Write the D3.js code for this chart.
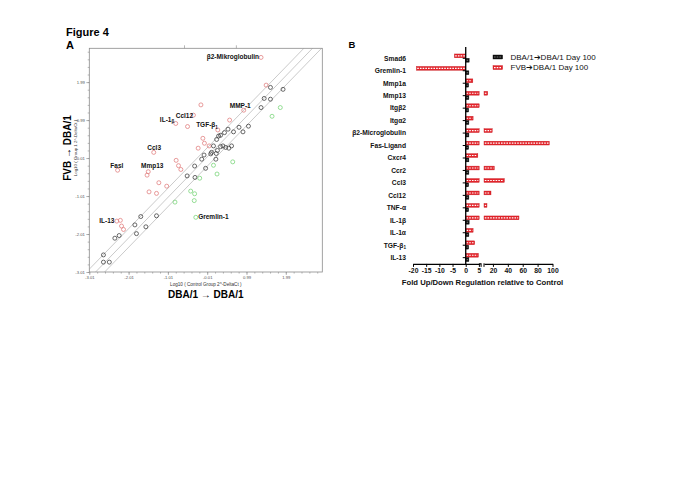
<!DOCTYPE html>
<html><head><meta charset="utf-8">
<script src="https://cdn.jsdelivr.net/npm/d3@7"></script>
<style>
body{margin:0;background:#fff}
svg{display:block}
text{font-family:"Liberation Sans",Arial,Helvetica,sans-serif}
</style>
</head><body>
<svg id="c" width="685" height="484"></svg>
<script>
// ---------------- Panel A data (log10 values) ----------------
const scatterX = [1.36,1.49,1.60,1.92,1.44,1.60,1.36,1.85,1.64,0.92,-0.17,0.56,-0.81,-0.51,-0.36,0.26,0.52,0.80,1.04,0.43,0.66,0.90,0.28,0.33,0.23,-0.12,-0.08,0.04,0.15,-0.24,0.33,0.39,0.61,-1.37,-0.80,-0.74,-0.68,0.25,0.10,0.08,-0.09,0.22,0.46,0.54,-0.15,0.21,-0.33,-0.05,0.15,0.64,-0.52,-0.32,-0.20,0.24,-0.43,-0.33,-0.34,-0.83,-0.30,-2.29,-1.51,-1.54,-1.24,-1.04,-1.49,-1.30,-1.70,-1.30,-1.85,-1.57,-1.81,-2.31,-2.22,-2.19,-2.14,-2.25,-2.36,-2.65,-2.65,-2.50];
const scatterY = [2.64,1.91,1.85,1.80,1.56,1.54,1.32,1.32,1.09,1.25,1.39,0.99,0.90,0.82,1.12,0.73,0.75,0.80,0.83,0.66,0.68,0.68,0.57,0.59,0.48,0.51,0.38,0.31,0.31,0.25,0.29,0.31,0.31,0.14,-0.07,-0.21,-0.31,0.19,0.14,0.10,0.07,0.11,0.27,0.25,-0.04,-0.04,-0.22,-0.28,-0.20,-0.11,-0.48,-0.52,-0.54,-0.43,-0.88,-0.95,-1.13,-1.17,-1.57,-0.33,-0.37,-0.46,-0.66,-0.75,-0.90,-0.94,-1.55,-1.53,-1.77,-1.82,-2.00,-1.67,-1.65,-1.80,-1.89,-2.05,-2.12,-2.56,-2.75,-2.75];
const scatterGroup = ["up","up","none","none","none","none","none","down","down","up","up","up","up","up","up","up","none","none","none","none","none","none","none","none","none","up","up","up","none","up","none","none","none","up","up","up","up","none","none","none","none","none","none","none","none","none","none","none","down","down","none","none","down","down","down","down","down","down","down","up","up","up","up","up","up","up","none","none","none","none","none","up","up","up","up","none","none","none","none","none"];

const tickValuesA = [-3.01,-2.01,-1.01,-0.01,0.99,1.99];
const tickLabelsA = ["-3.01","-2.01","-1.01","-0.01","0.99","1.99"];
const topTickValuesA = [-0.6,0.72];

// boundary / identity lines (data coords)
const diagX1 = [-3.08,-2.85,-2.62];
const diagY1 = [-3.01,-3.01,-3.01];
const diagX2 = [2.45,2.67,2.90];
const diagY2 = [2.88,2.88,2.88];

// gene annotations
const geneText   = ["β2-Mikroglobulin","MMP-1","Ccl12","IL-1","TGF-β","Ccl3","Fasl","Mmp13","IL-13","Gremlin-1"];
const geneSub    = ["","","","β","1","","","","",""];
const geneX      = [1.31,0.83,-0.37,-0.85,0.26,-1.36,-2.31,-1.41,-2.37,-0.24];
const geneY      = [2.65,1.36,1.11,1.01,0.87,0.27,-0.21,-0.21,-1.67,-1.56];
const geneAnchor = ["end","middle","end","end","end","middle","middle","middle","end","start"];

// ---------------- Panel B data (fold change) ----------------
const categories = ["Smad6","Gremlin-1","Mmp1a","Mmp13","Itgβ2","Itgα2","β2-Microglobulin","Fas-Ligand","Cxcr4","Ccr2","Ccl3","Ccl12","TNF-α","IL-1β","IL-1α","TGF-β","IL-13"];
const categorySub = ["","","","","","","","","","","","","","","","1",""];
const fvbValues = [-4.3,-18.7,2.7,13,5.2,2.8,19,95.7,4.6,21.8,35.3,17.4,12,55,2.8,3.4,4.8];
const dbaValues = [1.3,1.2,1.1,1.2,1.1,1.2,1.2,1.1,1.2,1.2,1.1,1.2,1.1,1.3,1.2,1.1,1.2];
const seriesNames = ["DBA/1➔DBA/1 Day 100","FVB➔DBA/1 Day 100"];
const ticksLow = [-20,-15,-10,-5,0,5];
const ticksHigh = [20,40,60,80,100];

// ============================================================
const svg = d3.select("#c");
const BOLD = "bold";
const fmtPlain = d => String(d);

svg.append("text").attr("x",66).attr("y",36).attr("font-size",11).attr("font-weight",BOLD).text("Figure 4");
svg.append("text").attr("x",66).attr("y",48.5).attr("font-size",11).attr("font-weight",BOLD).text("A");
svg.append("text").attr("x",348.5).attr("y",47.5).attr("font-size",9.5).attr("font-weight",BOLD).text("B");

// ---------------- Panel A ----------------
const xA = d3.scaleLinear().domain([-3.01,2.919]).range([89.3,322.3]);
const yA = d3.scaleLinear().domain([-3.01,2.88]).range([272,48.3]);
const gA = svg.append("g");

gA.append("clipPath").attr("id","clipA").append("rect")
  .attr("x",xA.range()[0]).attr("y",yA.range()[1])
  .attr("width",xA.range()[1]-xA.range()[0]).attr("height",yA.range()[0]-yA.range()[1]);

// diagonal lines
gA.append("g").attr("clip-path","url(#clipA)").selectAll("line").data(diagX1).join("line")
  .attr("x1",(d,i)=>xA(diagX1[i])).attr("y1",(d,i)=>yA(diagY1[i]))
  .attr("x2",(d,i)=>xA(diagX2[i])).attr("y2",(d,i)=>yA(diagY2[i]))
  .attr("stroke","#c4c4c4").attr("stroke-width",0.9);

// frame
gA.append("rect").attr("x",xA.range()[0]).attr("y",yA.range()[1])
  .attr("width",xA.range()[1]-xA.range()[0]).attr("height",yA.range()[0]-yA.range()[1])
  .attr("fill","none").attr("stroke","#8a8a8a").attr("stroke-width",0.8);

const minorA = d3.range(0,30).map(i=>-3.01+i*0.2).filter(v=>v<2.88);
function styleAxis(g){
  g.select(".domain").remove();
  g.selectAll("line").attr("stroke","#888").attr("stroke-width",0.6);
  g.selectAll("text").attr("fill","#555").attr("font-size",4.2).attr("font-family",'"Liberation Sans",Arial,sans-serif');
}
gA.append("g").attr("transform",`translate(0,${yA.range()[0]})`)
  .call(d3.axisBottom(xA).tickValues(minorA).tickFormat("").tickSize(1.6)).call(styleAxis);
gA.append("g").attr("transform",`translate(0,${yA.range()[0]})`)
  .call(d3.axisBottom(xA).tickValues(tickValuesA).tickFormat((d,i)=>tickLabelsA[i]).tickSize(3).tickPadding(1.5)).call(styleAxis);
gA.append("g").attr("transform",`translate(${xA.range()[0]},0)`)
  .call(d3.axisLeft(yA).tickValues(minorA).tickFormat("").tickSize(1.6)).call(styleAxis);
gA.append("g").attr("transform",`translate(${xA.range()[0]},0)`)
  .call(d3.axisLeft(yA).tickValues(tickValuesA).tickFormat((d,i)=>tickLabelsA[i]).tickSize(3).tickPadding(1.5)).call(styleAxis);
gA.append("g").attr("transform",`translate(0,${yA.range()[1]})`)
  .call(d3.axisTop(xA).tickValues(topTickValuesA).tickFormat("").tickSize(3)).call(styleAxis);

// points
const colA = {up:"#e07b7b", none:"#3a3a3a", down:"#74d374"};
gA.append("g").selectAll("circle").data(scatterX).join("circle")
  .attr("cx",(d,i)=>xA(scatterX[i])).attr("cy",(d,i)=>yA(scatterY[i]))
  .attr("r",2.0).attr("fill","none")
  .attr("stroke",(d,i)=>colA[scatterGroup[i]]).attr("stroke-width",0.75);

// gene labels
const lab = gA.append("g").selectAll("text").data(geneText).join("text")
  .attr("x",(d,i)=>xA(geneX[i])).attr("y",(d,i)=>yA(geneY[i]))
  .attr("dy","0.35em").attr("text-anchor",(d,i)=>geneAnchor[i])
  .attr("font-size",6.5).attr("font-weight",BOLD).attr("fill","#111");
lab.append("tspan").text(d=>d);
lab.filter((d,i)=>geneSub[i]!=="").append("tspan").attr("font-size",4.5).attr("dy","1.6")
  .text(d=>geneSub[geneText.indexOf(d)]);

// axis titles
const cxA = (xA.range()[0]+xA.range()[1])/2;
gA.append("text").attr("x",cxA).attr("y",285.5).attr("text-anchor","middle")
  .attr("font-size",4.6).attr("fill","#333").text("Log10 ( Control Group 2^-DeltaCt )");
gA.append("text").attr("x",cxA).attr("y",297.5).attr("text-anchor","middle")
  .attr("font-size",10).attr("font-weight",BOLD).text("DBA/1 → DBA/1");
gA.append("text").attr("transform","translate(71,148) rotate(-90)").attr("text-anchor","middle")
  .attr("font-size",10).attr("font-weight",BOLD).text("FVB → DBA/1");
gA.append("text").attr("transform","translate(77,148) rotate(-90)").attr("text-anchor","middle")
  .attr("font-size",4.4).attr("fill","#333").text("Log10 ( Group 1 2^-DeltaCt )");

// ---------------- Panel B ----------------
const gB = svg.append("g");
const yB = d3.scaleBand().domain(categories).range([52.07,263.9]);
const subB = d3.scaleBand().domain(["fvb","dba"]).range([1.9,10.1]).paddingInner(0.13);
const xLow = d3.scaleLinear().domain([-20,5]).range([413,478.9]);
const xHigh = d3.scaleLinear().domain([8,100]).range([484,552.5]);
const lowClip = 5.1;
const RED = "#e3242b";

function drawBar(g, v, yTop, h, fill, dash){
  const segs = [];
  if (v < 0) segs.push([xLow(v), xLow(0)]);
  else segs.push([xLow(0), xLow(Math.min(v, lowClip))]);
  if (v > xHigh.domain()[0]) segs.push([xHigh(xHigh.domain()[0]), xHigh(v)]);
  segs.forEach(([a,b])=>{
    g.append("rect").attr("x",a).attr("y",yTop).attr("width",b-a).attr("height",h)
      .attr("fill",fill).attr("stroke",fill==="#111"?"#000":"#c4161c").attr("stroke-width",0.4);
    if (b-a > 2) g.append("line").attr("x1",a+0.8).attr("x2",b-0.8)
      .attr("y1",yTop+h/2).attr("y2",yTop+h/2)
      .attr("stroke",dash).attr("stroke-width",1.1).attr("stroke-dasharray","1.6,1.1");
  });
}

categories.forEach((c,i)=>{
  const y0 = yB(c);
  drawBar(gB, fvbValues[i], y0+subB("fvb"), subB.bandwidth(), RED, "#ffffff");
  drawBar(gB, dbaValues[i], y0+subB("dba"), subB.bandwidth(), "#111", "#777");
});

// y axis
const x0 = xLow(0);
gB.append("line").attr("x1",x0).attr("x2",x0).attr("y1",47).attr("y2",yB.range()[1])
  .attr("stroke","#000").attr("stroke-width",1.3);
gB.selectAll(".yt").data(categories).join("line").attr("class","yt")
  .attr("x1",x0-3).attr("x2",x0).attr("y1",d=>yB(d)+yB.bandwidth()/2).attr("y2",d=>yB(d)+yB.bandwidth()/2)
  .attr("stroke","#000").attr("stroke-width",1);
const cl = gB.selectAll(".yl").data(categories).join("text").attr("class","yl")
  .attr("x",406).attr("y",d=>yB(d)+yB.bandwidth()/2).attr("dy","0.35em")
  .attr("text-anchor","end").attr("font-size",6.7).attr("font-weight",BOLD).attr("fill","#111");
cl.append("tspan").text(d=>d);
cl.filter((d)=>categorySub[categories.indexOf(d)]!=="").append("tspan")
  .attr("font-size",4.6).attr("dy","1.6").text(d=>categorySub[categories.indexOf(d)]);

// x axis (broken)
const yAx = yB.range()[1];
function styleB(g){
  g.select(".domain").attr("stroke","#000").attr("stroke-width",1.2);
  g.selectAll(".tick line").attr("stroke","#000").attr("stroke-width",1);
  g.selectAll("text").attr("font-size",6.8).attr("font-weight",BOLD).attr("fill","#111")
    .attr("font-family",'"Liberation Sans",Arial,sans-serif');
}
gB.append("g").attr("transform",`translate(0,${yAx})`)
  .call(d3.axisBottom(xLow).tickValues(ticksLow).tickFormat(fmtPlain).tickSize(3).tickSizeOuter(0).tickPadding(1.5))
  .call(styleB);
gB.append("line").attr("x1",xLow(5)).attr("x2",xLow(5)+2.2).attr("y1",yAx).attr("y2",yAx).attr("stroke","#000").attr("stroke-width",1.2);
gB.append("line").attr("x1",xLow(5)+2.2).attr("x2",xLow(5)+2.2).attr("y1",yAx-0.6).attr("y2",yAx+3).attr("stroke","#000").attr("stroke-width",1);
gB.append("g").attr("transform",`translate(0,${yAx})`)
  .call(d3.axisBottom(xHigh).tickValues(ticksHigh).tickFormat(fmtPlain).tickSize(3).tickSizeOuter(0).tickPadding(1.5))
  .call(styleB);
gB.append("line").attr("x1",xHigh.range()[0]).attr("x2",xHigh.range()[0]).attr("y1",yAx-0.6).attr("y2",yAx+3).attr("stroke","#000").attr("stroke-width",1);

gB.append("text").attr("x",482.5).attr("y",284.5).attr("text-anchor","middle")
  .attr("font-size",7.7).attr("font-weight",BOLD).attr("fill","#111")
  .text("Fold Up/Down Regulation relative to Control");

// legend
const legFill = [["#111","#777"],[RED,"#fff"]];
seriesNames.forEach((s,i)=>{
  const ly = 55 + i*10.6;
  gB.append("rect").attr("x",493).attr("y",ly).attr("width",9.6).attr("height",4)
    .attr("fill",legFill[i][0]).attr("stroke",i?"#c4161c":"#000").attr("stroke-width",0.4);
  gB.append("line").attr("x1",494).attr("x2",501.6).attr("y1",ly+2).attr("y2",ly+2)
    .attr("stroke",legFill[i][1]).attr("stroke-width",1.1).attr("stroke-dasharray","1.6,1.1");
  gB.append("text").attr("x",510.5).attr("y",ly+2).attr("dy","0.35em")
    .attr("font-size",8).attr("fill","#111").text(s);
});
</script>
</body></html>
